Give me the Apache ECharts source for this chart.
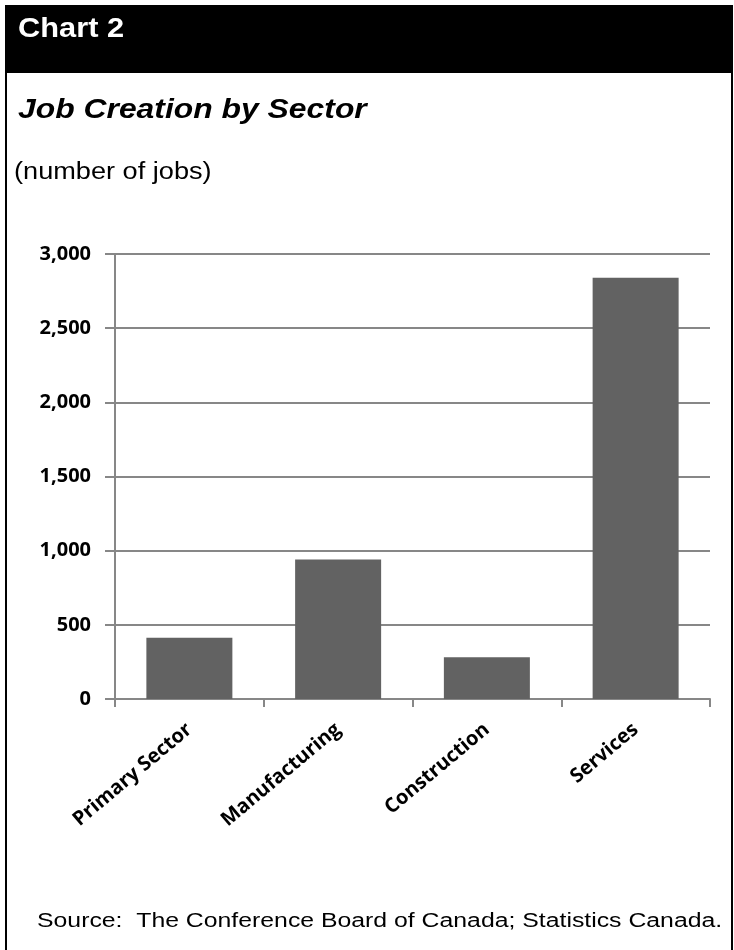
<!DOCTYPE html>
<html>
<head>
<meta charset="utf-8">
<title>Job Creation by Sector</title>
<script src="https://cdn.jsdelivr.net/npm/echarts@6/dist/echarts.min.js"></script>
<style>
  html, body { margin: 0; padding: 0; background: #fff; }
  #chart { width: 734px; height: 950px; }
</style>
</head>
<body>
<div id="chart"></div>
<script>
// values
const sectors = ['Primary Sector', 'Manufacturing', 'Construction', 'Services'];
const jobs = [413, 941, 281, 2840];
const yTicks = [0, 500, 1000, 1500, 2000, 2500, 3000];

const gray = '#878787';
const chart = echarts.init(document.getElementById('chart'));

const option = {
  animation: false,
  backgroundColor: '#fff',
  grid: { left: 115, right: 24, top: 254, bottom: 251, containLabel: false },
  graphic: [
    // outer frame
    { type: 'rect', shape: { x: 6, y: 6, width: 726, height: 960 },
      style: { fill: 'none', stroke: '#000', lineWidth: 2 }, silent: true },
    // black header bar
    { type: 'rect', shape: { x: 5, y: 5, width: 728, height: 68 },
      style: { fill: '#000' }, silent: true },
    { type: 'text', x: 18, y: 15, scaleX: 1.1,
      style: { text: 'Chart 2', fill: '#fff', font: 'bold 28px "Liberation Sans", Arial, sans-serif' } },
    { type: 'text', x: 18, y: 97, scaleX: 1.18,
      style: { text: 'Job Creation by Sector', fill: '#000',
               font: 'italic bold 27px "Liberation Sans", Arial, sans-serif' } },
    { type: 'text', x: 14, y: 161, scaleX: 1.18,
      style: { text: '(number of jobs)', fill: '#000',
               font: '23px "Liberation Sans", Arial, sans-serif' } },
    { type: 'text', x: 37, y: 911, scaleX: 1.24,
      style: { text: 'Source:  The Conference Board of Canada; Statistics Canada.', fill: '#000',
               font: '20px "Liberation Sans", Arial, sans-serif' } }
  ],
  xAxis: {
    type: 'category',
    data: sectors,
    boundaryGap: true,
    axisLine: { show: true, lineStyle: { color: gray, width: 2 } },
    axisTick: { show: true, interval: 0, length: 8, lineStyle: { color: gray, width: 2 } },
    axisLabel: {
      interval: 0, rotate: 40, margin: 28,
      color: '#000', fontFamily: '"Open Sans", sans-serif', fontWeight: 'bold', fontSize: 20
    }
  },
  yAxis: {
    type: 'value',
    min: yTicks[0],
    max: yTicks[yTicks.length - 1],
    interval: yTicks[1] - yTicks[0],
    axisLine: { show: true, lineStyle: { color: gray, width: 2 } },
    axisTick: { show: true, length: 10, lineStyle: { color: gray, width: 2 } },
    splitLine: { show: true, lineStyle: { color: gray, width: 2 } },
    axisLabel: {
      margin: 24, color: '#000', fontFamily: '"Open Sans", sans-serif', fontWeight: 'bold', fontSize: 20,
      formatter: v => v.toLocaleString('en-US')
    }
  },
  series: [{
    name: 'Jobs',
    type: 'bar',
    data: jobs,
    barWidth: 86,
    itemStyle: { color: '#626262' }
  }]
};

chart.setOption(option);
</script>
</body>
</html>
